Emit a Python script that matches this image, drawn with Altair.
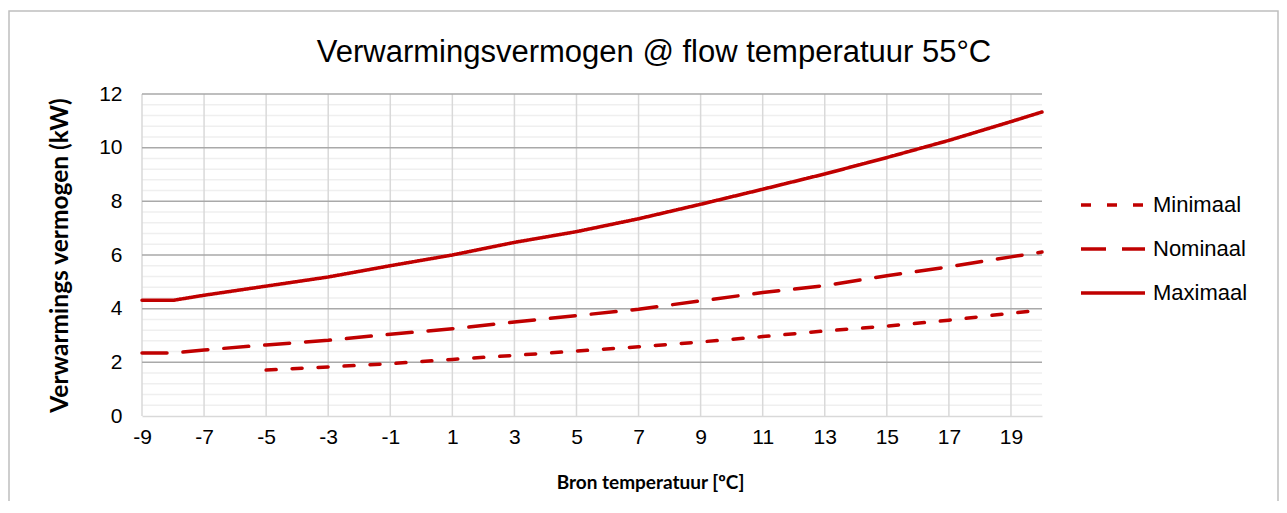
import altair as alt
import pandas as pd

# ---- data ----
temps = [-9, -8, -7, -5, -3, -1, 1, 3, 5, 7, 9, 11, 13, 15, 17, 19, 20]
maximaal = [4.31, 4.31, 4.50, 4.84, 5.18, 5.60, 6.00, 6.47, 6.87, 7.35, 7.89, 8.45, 9.02, 9.63, 10.27, 10.97, 11.33]
nominaal = [2.35, 2.35, 2.46, 2.65, 2.82, 3.05, 3.25, 3.50, 3.74, 3.98, 4.29, 4.60, 4.86, 5.23, 5.56, 5.93, 6.11]
min_temps = [-5, -3, -1, 1, 3, 5, 7, 9, 11, 13, 15, 17, 19, 20]
minimaal = [1.71, 1.83, 1.95, 2.11, 2.26, 2.42, 2.58, 2.76, 2.96, 3.17, 3.35, 3.57, 3.83, 3.95]

series_names = ["Minimaal", "Nominaal", "Maximaal"]
x_ticks = [-9, -7, -5, -3, -1, 1, 3, 5, 7, 9, 11, 13, 15, 17, 19]
y_major = [2, 4, 6, 8, 10, 12]
y_minor = [round(k * 0.4, 1) for k in range(1, 31) if k % 5 != 0]

rows = []
for t, v in zip(min_temps, minimaal):
    rows.append({"serie": "Minimaal", "t": t, "v": v})
for t, v in zip(temps, nominaal):
    rows.append({"serie": "Nominaal", "t": t, "v": v})
for t, v in zip(temps, maximaal):
    rows.append({"serie": "Maximaal", "t": t, "v": v})
df = pd.DataFrame(rows)

FONT = "Liberation Sans"
BOLD = "Lato"
RED = "#c00000"

xscale = alt.Scale(domain=[-9, 20], nice=False, zero=False)
yscale = alt.Scale(domain=[0, 12], nice=False)

border = alt.Chart(pd.DataFrame({"a": [0]})).mark_rect(
    fill="transparent", stroke="#bfbfbf", strokeWidth=1.5
).encode(x=alt.value(-133), x2=alt.value(1136), y=alt.value(-83), y2=alt.value(440))

minor = alt.Chart(pd.DataFrame({"y": y_minor})).mark_rule(
    color="#efefef", strokeWidth=1.5
).encode(y=alt.Y("y:Q", scale=yscale))

vgrid = alt.Chart(pd.DataFrame({"x": x_ticks})).mark_rule(
    color="#d9d9d9", strokeWidth=1.5
).encode(x=alt.X("x:Q", scale=xscale))

major = alt.Chart(pd.DataFrame({"y": y_major})).mark_rule(
    color="#a9a9a9", strokeWidth=1.5
).encode(y=alt.Y("y:Q", scale=yscale))

lines = alt.Chart(df).mark_line(
    color=RED, strokeWidth=3.5, strokeCap="round"
).encode(
    x=alt.X("t:Q", scale=xscale,
            axis=alt.Axis(values=x_ticks, grid=False, ticks=False, tickSize=0,
                          domainColor="#d9d9d9", domainWidth=1.5,
                          labelExpr="datum.value + ''",
                          labelFont=FONT, labelFontSize=21, labelColor="#000000",
                          labelPadding=10, labelFlush=False,
                          title="Bron temperatuur [ºC]",
                          titleFont=BOLD, titleFontSize=19, titleFontWeight="bold",
                          titleColor="#000000", titleX=508, titleY=72,
                          titleBaseline="alphabetic")),
    y=alt.Y("v:Q", scale=yscale,
            axis=alt.Axis(values=[0, 2, 4, 6, 8, 10, 12], grid=False, ticks=False,
                          tickSize=0, domain=False,
                          labelExpr="datum.value + ''",
                          labelFont=FONT, labelFontSize=21, labelColor="#000000",
                          labelPadding=20,
                          title="Verwarmings vermogen (kW)",
                          titleFont=BOLD, titleFontSize=24.5, titleFontWeight="bold",
                          titleColor="#000000", titleX=-75, titleY=161,
                          titleBaseline="alphabetic", titleAngle=-90)),
    strokeDash=alt.StrokeDash(
        "serie:N",
        scale=alt.Scale(domain=series_names, range=[[10, 16], [25, 16], [1, 0]]),
        legend=alt.Legend(title=None, orient="none", legendX=937, legendY=90,
                          symbolType="stroke", symbolSize=4096,
                          symbolStrokeWidth=3.5, symbolStrokeColor=RED,
                          clipHeight=42, rowPadding=2, padding=0,
                          labelFont=FONT, labelFontSize=22, labelColor="#000000",
                          labelOffset=6),
    ),
    order=alt.Order("t:Q"),
)

chart = alt.layer(border, minor, vgrid, major, lines).properties(
    width=900,
    height=322,
    autosize=alt.AutoSizeParams(type="none"),
    padding={"left": 134, "top": 86, "right": 237, "bottom": 85},
    title=alt.TitleParams(
        "Verwarmingsvermogen @ flow temperatuur 55°C",
        font=FONT, fontSize=31, fontWeight="normal", color="#000000",
        anchor="middle", frame="group", dx=62, offset=-83, baseline="alphabetic",
    ),
).configure_view(stroke=None)

chart.save("out.html", embed_options={"renderer": "svg", "actions": False})
